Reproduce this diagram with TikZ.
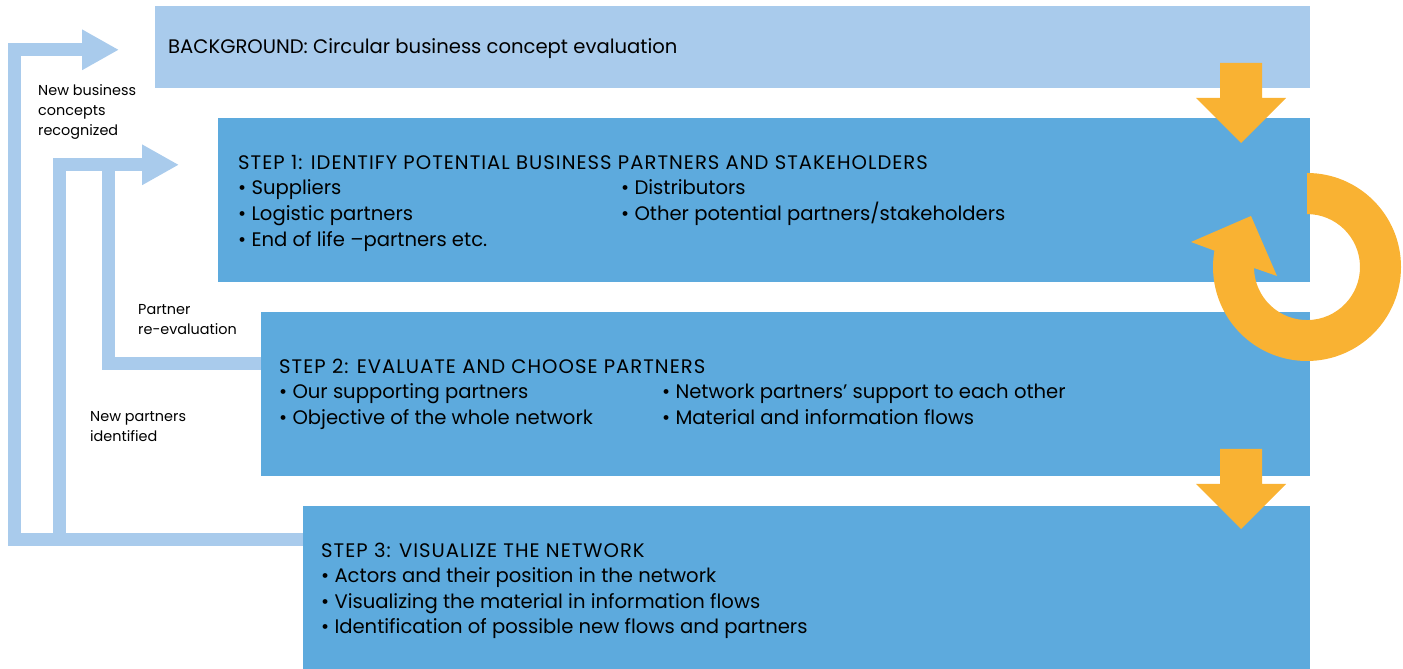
\documentclass[tikz,border=0pt]{standalone}
\usepackage{fontspec}
\setmainfont{Poppins}
\usetikzlibrary{arrows.meta,positioning}
\definecolor{paleBlue}{HTML}{A9CBEC}
\definecolor{stepBlue}{HTML}{5DAADD}
\definecolor{loopOrange}{HTML}{F9B233}
\newcommand\stephead[1]{{\addfontfeatures{LetterSpace=5.2}#1}}

\begin{document}
\begin{tikzpicture}
[x=1pt,y=1pt,
  boxDecorate/.style={draw=none,fill=stepBlue,inner sep=0pt,anchor=south west},
  textDecorate/.style={anchor=base west,inner sep=0pt,font=\fontsize{19.6}{25.3}\selectfont},
  labelDecorate/.style={anchor=base west,inner sep=0pt,font=\fontsize{14.4}{20}\selectfont},
  feedDecorate/.style={draw=paleBlue,line width=13pt},
  tipDecorate/.style={-{Triangle[width=38pt,length=37pt]}},
  downArrow/.pic={\fill[loopOrange] (-21,0) -- (21,0) -- (21,-35) -- (45,-35)
    -- (0,-80) -- (-45,-35) -- (-21,-35) -- cycle;}]
\useasboundingbox (0,0) rectangle (1403,669);
%% boxes
\node (bg) at (155,581) [boxDecorate,fill=paleBlue,minimum width=1155pt,minimum height=82pt] {};
\node (s1) at (218,387) [boxDecorate,minimum width=1092pt,minimum height=164pt] {};
\node (s2) at (261,193) [boxDecorate,minimum width=1049pt,minimum height=164pt] {};
\node (s3) at (303,0) [boxDecorate,minimum width=1007pt,minimum height=163pt] {};
%% box texts
\node (bgtext) at ([xshift=13pt,yshift=-48pt]bg.north west) [textDecorate]
  {BACKGROUND: Circular business concept evaluation};
\node (s1text) at ([xshift=20pt,yshift=-52pt]s1.north west) [textDecorate]
  {\begin{tabular}[t]{@{}p{383pt}@{}l@{}}
    \multicolumn{2}{@{}l@{}}{\stephead{STEP 1: IDENTIFY POTENTIAL BUSINESS PARTNERS AND STAKEHOLDERS}}\\
    • Suppliers & • Distributors\\
    • Logistic partners & • Other potential partners/stakeholders\\
    • End of life –partners etc. &
  \end{tabular}};
\node (s2text) at ([xshift=18pt,yshift=-62pt]s2.north west) [textDecorate]
  {\begin{tabular}[t]{@{}p{383pt}@{}l@{}}
    \multicolumn{2}{@{}l@{}}{\stephead{STEP 2: EVALUATE AND CHOOSE PARTNERS}}\\
    • Our supporting partners & • Network partners’ support to each other\\
    • Objective of the whole network & • Material and information flows
  \end{tabular}};
\node (s3text) at ([xshift=18pt,yshift=-52pt]s3.north west) [textDecorate]
  {\begin{tabular}[t]{@{}l@{}}
    \stephead{STEP 3: VISUALIZE THE NETWORK}\\
    • Actors and their position in the network\\
    • Visualizing the material in information flows\\
    • Identification of possible new flows and partners
  \end{tabular}};
%% feedback loops
\draw[feedDecorate,tipDecorate] ([yshift=48pt]s3.west) -| ([xshift=-140.5pt,yshift=-3pt]bg.west)
  -- ([xshift=-36pt,yshift=-3pt]bg.west);
\draw[feedDecorate,tipDecorate] ([xshift=-244pt,yshift=48pt]s3.west) |- ([xshift=-39pt,yshift=35pt]s1.west);
\draw[feedDecorate] ([yshift=30.5pt]s2.west) -| ([xshift=-109.5pt,yshift=35pt]s1.west);
%% loop labels
\node (newconcepts) at (38,573) [labelDecorate]
  {\begin{tabular}[t]{@{}l@{}}New business\\concepts\\recognized\end{tabular}};
\node (reeval) at (138,354) [labelDecorate]
  {\begin{tabular}[t]{@{}l@{}}Partner\\re-evaluation\end{tabular}};
\node (newpartners) at (90,247) [labelDecorate]
  {\begin{tabular}[t]{@{}l@{}}New partners\\identified\end{tabular}};
%% orange flow arrows
\pic at (1241,606) {downArrow};
\pic at (1241,220) {downArrow};
\fill[loopOrange] (1307,496) arc[start angle=90,end angle=-190,radius=94pt]
  -- (1191,427) -- (1251,453) -- (1277,393) -- (1254,401)
  arc[start angle=-179,end angle=90,radius=53pt] -- cycle;
\end{tikzpicture}
\end{document}
